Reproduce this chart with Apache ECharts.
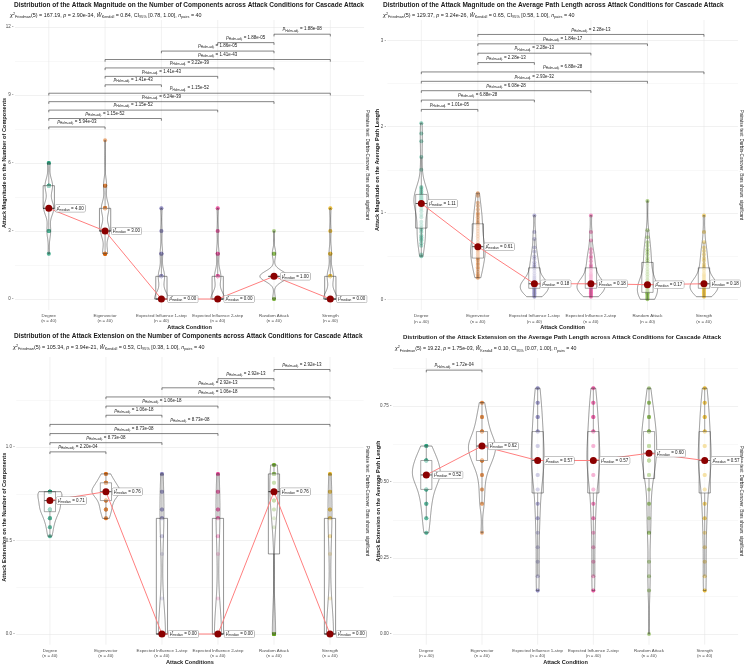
<!DOCTYPE html>
<html>
<head>
<meta charset="utf-8">
<title>Cascade attack distributions</title>
<script src="https://cdn.jsdelivr.net/npm/echarts@6.0.0/dist/echarts.min.js"></script>
<style>
  html, body { margin: 0; padding: 0; background: #fff; }
  #chart { width: 745px; height: 666px; }
</style>
</head>
<body>
<div id="chart"></div>
<script>
const conditions = ['Degree', 'Eigenvector', 'Expected Influence 1-step', 'Expected Influence 2-step', 'Random Attack', 'Strength'];
const groupColors = ['#1B9E77', '#D95F02', '#7570B3', '#E7298A', '#66A61E', '#E6AB02'];
const groupN = 40;

// attack magnitude, number of components: levels seen and how many of the 40 pairs sit on each
const magCompLevels = [[2, 3, 4, 5, 6], [2, 3, 4, 5, 7], [0, 1, 2, 3, 4], [0, 1, 2, 3, 4], [0, 1, 2, 3], [0, 1, 2, 3, 4]];
const magCompCounts = [[2, 6, 16, 12, 4], [8, 14, 12, 5, 1], [22, 10, 4, 2, 2], [22, 10, 4, 2, 2], [3, 32, 4, 1], [22, 10, 4, 2, 2]];

// attack magnitude, average path length: the 40 values of each condition
const magPathValues = [
  [0.50, 0.52, 0.62, 0.65, 0.68, 0.70, 0.72, 0.74, 0.78, 0.81, 0.83, 0.86, 0.90, 0.95, 0.98, 1.02, 1.05, 1.08, 1.10, 1.11,
   1.11, 1.12, 1.14, 1.15, 1.16, 1.17, 1.18, 1.19, 1.20, 1.21, 1.23, 1.25, 1.27, 1.29, 1.30, 1.50, 1.65, 1.83, 1.92, 2.04],
  [0.25, 0.27, 0.29, 0.32, 0.35, 0.37, 0.40, 0.42, 0.45, 0.47, 0.48, 0.50, 0.52, 0.54, 0.56, 0.57, 0.58, 0.59, 0.60, 0.61,
   0.61, 0.63, 0.66, 0.70, 0.73, 0.76, 0.79, 0.82, 0.85, 0.87, 0.89, 0.92, 0.95, 0.98, 1.00, 1.04, 1.08, 1.12, 1.20, 1.23],
  [0.03, 0.04, 0.05, 0.06, 0.07, 0.08, 0.09, 0.10, 0.11, 0.12, 0.13, 0.13, 0.14, 0.14, 0.15, 0.15, 0.16, 0.17, 0.17, 0.18,
   0.18, 0.19, 0.20, 0.21, 0.23, 0.25, 0.27, 0.30, 0.33, 0.36, 0.38, 0.40, 0.43, 0.47, 0.50, 0.55, 0.60, 0.70, 0.78, 0.97],
  [0.03, 0.04, 0.05, 0.06, 0.07, 0.08, 0.09, 0.10, 0.11, 0.12, 0.13, 0.14, 0.14, 0.15, 0.15, 0.16, 0.16, 0.17, 0.18, 0.18,
   0.18, 0.19, 0.20, 0.22, 0.24, 0.26, 0.28, 0.30, 0.33, 0.36, 0.38, 0.40, 0.44, 0.48, 0.50, 0.54, 0.58, 0.68, 0.78, 0.97],
  [0.00, 0.01, 0.02, 0.03, 0.04, 0.05, 0.06, 0.07, 0.07, 0.08, 0.08, 0.09, 0.10, 0.11, 0.12, 0.13, 0.14, 0.15, 0.16, 0.17,
   0.17, 0.19, 0.21, 0.23, 0.26, 0.29, 0.32, 0.35, 0.39, 0.42, 0.45, 0.48, 0.52, 0.55, 0.58, 0.62, 0.66, 0.72, 0.80, 1.14],
  [0.03, 0.04, 0.05, 0.06, 0.07, 0.08, 0.09, 0.10, 0.11, 0.12, 0.13, 0.13, 0.14, 0.15, 0.15, 0.16, 0.16, 0.17, 0.17, 0.18,
   0.18, 0.19, 0.20, 0.22, 0.24, 0.26, 0.28, 0.30, 0.33, 0.36, 0.38, 0.41, 0.45, 0.48, 0.52, 0.56, 0.60, 0.66, 0.78, 0.97]
];

// attack extension, number of components
const extCompLevels = [
  [0.5238, 0.5714, 0.6190, 0.6667, 0.7143, 0.7619],
  [0.6190, 0.6667, 0.7143, 0.7619, 0.8095, 0.8571],
  [0, 0.1905, 0.4286, 0.5238, 0.6190, 0.6667, 0.7619, 0.8571],
  [0, 0.1905, 0.4286, 0.5238, 0.6190, 0.6667, 0.7619, 0.8571],
  [0, 0.5714, 0.6190, 0.6667, 0.7143, 0.7619, 0.8095, 0.8571, 0.9048],
  [0, 0.1905, 0.4286, 0.5238, 0.6190, 0.6667, 0.7619, 0.8571]
];
const extCompCounts = [
  [2, 3, 5, 9, 9, 12],
  [3, 5, 6, 14, 8, 4],
  [22, 1, 1, 3, 4, 3, 3, 3],
  [22, 1, 1, 3, 4, 3, 3, 3],
  [10, 1, 1, 2, 4, 8, 3, 7, 4],
  [22, 1, 1, 3, 4, 3, 3, 3]
];

// attack extension, average path length
const extPathLevels = [
  [0.3333, 0.3810, 0.4286, 0.4762, 0.5238, 0.5714, 0.6190],
  [0.3333, 0.4286, 0.4762, 0.5238, 0.5714, 0.6190, 0.6667, 0.7143, 0.7619],
  [0.1429, 0.1905, 0.2381, 0.2857, 0.3333, 0.3810, 0.4286, 0.4762, 0.5238, 0.5714, 0.6190, 0.6667, 0.7143, 0.7619, 0.8095],
  [0.1429, 0.1905, 0.2381, 0.2857, 0.3333, 0.3810, 0.4286, 0.4762, 0.5238, 0.5714, 0.6190, 0.6667, 0.7143, 0.7619, 0.8095],
  [0, 0.1429, 0.1905, 0.2381, 0.3333, 0.3810, 0.4286, 0.4762, 0.5238, 0.5714, 0.6190, 0.6667, 0.7143, 0.7619, 0.8095],
  [0.1429, 0.1905, 0.2381, 0.2857, 0.3333, 0.3810, 0.4286, 0.4762, 0.5238, 0.5714, 0.6190, 0.6667, 0.7143, 0.7619, 0.8095]
];
const extPathCounts = [
  [2, 3, 4, 6, 12, 9, 4],
  [1, 2, 2, 3, 8, 12, 6, 4, 2],
  [2, 1, 1, 1, 1, 2, 2, 2, 3, 9, 3, 4, 4, 3, 2],
  [2, 1, 1, 1, 1, 2, 2, 2, 3, 9, 3, 4, 4, 3, 2],
  [1, 1, 1, 1, 2, 1, 2, 1, 4, 6, 6, 6, 4, 3, 1],
  [2, 1, 1, 1, 1, 2, 2, 2, 3, 9, 3, 4, 4, 3, 2]
];

// significant Durbin-Conover comparisons (Holm adjusted), bottom bracket first: [from, to, p]
const magCompPairs = [
  [0, 1, '5.94e-03'], [0, 2, '1.15e-52'], [0, 3, '1.15e-52'], [0, 4, '6.24e-39'], [0, 5, '1.15e-52'],
  [1, 2, '1.41e-43'], [1, 3, '1.41e-43'], [1, 4, '3.22e-39'], [1, 5, '1.41e-43'],
  [2, 4, '1.86e-05'], [3, 4, '1.88e-05'], [4, 5, '1.88e-08']
];
const magPathPairs = [
  [0, 1, '1.01e-05'], [0, 2, '6.88e-28'], [0, 3, '6.08e-28'], [0, 4, '2.93e-32'], [0, 5, '6.88e-28'],
  [1, 2, '2.28e-13'], [1, 3, '2.28e-13'], [1, 4, '1.84e-17'], [1, 5, '2.28e-13']
];
const extCompPairs = [
  [0, 1, '2.20e-04'], [0, 2, '8.73e-08'], [0, 3, '8.73e-08'], [0, 5, '8.73e-08'],
  [1, 2, '1.06e-18'], [1, 3, '1.06e-18'], [1, 5, '1.06e-18'],
  [2, 4, '2.92e-13'], [3, 4, '2.92e-13'], [4, 5, '2.92e-13']
];
const extPathPairs = [[0, 1, '1.72e-04']];

// Friedman test summaries
const friedmanChi = ['167.19', '129.37', '105.34', '19.22'];
const friedmanP = ['2.90e-34', '3.24e-26', '3.94e-21', '1.75e-03'];
const kendallW = ['0.84', '0.65', '0.53', '0.10'];
const kendallCI = ['[0.78, 1.00]', '[0.58, 1.00]', '[0.38, 1.00]', '[0.07, 1.00]'];

const panelTitles = [
  'Distribution of the Attack Magnitude on the Number of Components across Attack Conditions for Cascade Attack',
  'Distribution of the Attack Magnitude on the Average Path Length across Attack Conditions for Cascade Attack',
  'Distribution of the Attack Extension on the Number of Components across Attack Conditions for Cascade Attack',
  'Distribution of the Attack Extension on the Average Path Length across Attack Conditions for Cascade Attack'
];
const yTitles = [
  'Attack Magnitude on the Number of Components',
  'Attack Magnitude on the Average Path Length',
  'Attack Extension on the Number of Components',
  'Attack Extension on the Average Path Length'
];
const xTitles = ['Attack Condition', 'Attack Condition', 'Attack Conditions', 'Attack Condition'];
const captionText = 'Pairwise test: Durbin-Conover, Bars shown: significant';

// layout of the four panels (pixels, and bracket stacking in data units)
const layouts = [
  { grid: { left: 14.4, top: 27, width: 349.7, height: 272 }, yMax: 12, yStep: 1.5, digits: 0,
    extTop: 7, extBottom: 11, bracketBase: 7.59, bracketStep: 0.372,
    titleX: 14, titleY: 5.5, titleSize: 6.5, subX: 10, subY: 15.5, subSize: 5.4, capX: 367, capY: 165, yGap: 8 },
  { grid: { left: 387.4, top: 40.4, width: 350.5, height: 258.9 }, yMax: 3, yStep: 0.5, digits: 0,
    extTop: 20.4, extBottom: 10.7, bracketBase: 2.20, bracketStep: 0.1086,
    titleX: 383, titleY: 5, titleSize: 6.5, subX: 383, subY: 15.5, subSize: 5.4, capX: 741, capY: 165, yGap: 7.4 },
  { grid: { left: 15.6, top: 400.5, width: 348, height: 233.8 }, yMax: 1.25, yStep: 0.25, digits: 1,
    extTop: 43.5, extBottom: 10.7, bracketBase: 0.975, bracketStep: 0.049,
    titleX: 14, titleY: 336, titleSize: 6.5, subX: 13, subY: 347.5, subSize: 5.4, capX: 367, capY: 501, yGap: 9.3 },
  { grid: { left: 392.9, top: 368.3, width: 345.2, height: 266 }, yMax: 0.875, yStep: 0.125, digits: 2,
    extTop: 10.3, extBottom: 10.7, bracketBase: 0.869, bracketStep: 0.04,
    titleX: 403, titleY: 337.5, titleSize: 6.1, subX: 395, subY: 349, subSize: 5.2, capX: 741, capY: 501, yGap: 11.6 }
];

const fontFamily = "'Liberation Sans', Arial, Helvetica, sans-serif";
const ink = '#1A1A1A';

function expand(levels, counts) {
  const out = [];
  levels.forEach((v, i) => {
    for (let k = 0; k < counts[i]; k++) out.push(v);
  });
  return out;
}

// R type-7 quantile on a sorted array
function quantile(s, p) {
  const h = (s.length - 1) * p;
  const lo = Math.floor(h);
  const hi = Math.min(lo + 1, s.length - 1);
  return s[lo] + (h - lo) * (s[hi] - s[lo]);
}

function sd(s) {
  const m = s.reduce((a, b) => a + b, 0) / s.length;
  return Math.sqrt(s.reduce((a, b) => a + (b - m) * (b - m), 0) / (s.length - 1));
}

// same rule as R's bw.nrd0
function bandwidth(s) {
  const hi = sd(s);
  let lo = Math.min(hi, (quantile(s, 0.75) - quantile(s, 0.25)) / 1.34);
  if (!lo) lo = hi || Math.abs(s[0]) || 1;
  return 0.9 * lo * Math.pow(s.length, -0.2);
}

// gaussian kernel density over the data range (violins are trimmed)
function density(s) {
  const bw = bandwidth(s);
  const from = s[0], to = s[s.length - 1];
  const out = [];
  const steps = 512;
  for (let i = 0; i < steps; i++) {
    const y = from + (to - from) * i / (steps - 1);
    let sum = 0;
    for (const x of s) {
      const z = (y - x) / bw;
      sum += Math.exp(-0.5 * z * z);
    }
    out.push([y, sum / (s.length * bw * Math.sqrt(2 * Math.PI))]);
  }
  return out;
}

function groupStats(values) {
  const s = values.slice().sort((a, b) => a - b);
  const q1 = quantile(s, 0.25), med = quantile(s, 0.5), q3 = quantile(s, 0.75);
  const iqr = q3 - q1;
  const lowW = s.find(v => v >= q1 - 1.5 * iqr);
  const upW = s.slice().reverse().find(v => v <= q3 + 1.5 * iqr);
  return { s, q1, med, q3, lowW, upW, dens: density(s) };
}

const panelGroups = [
  magCompLevels.map((lv, i) => expand(lv, magCompCounts[i])),
  magPathValues,
  extCompLevels.map((lv, i) => expand(lv, extCompCounts[i])),
  extPathLevels.map((lv, i) => expand(lv, extPathCounts[i]))
];
const panelPairs = [magCompPairs, magPathPairs, extCompPairs, extPathPairs];

function subRich(size) {
  const small = size * 0.7;
  return {
    t: { fontSize: size, fontFamily, color: ink, lineHeight: size * 1.4 },
    i: { fontSize: size, fontFamily, fontStyle: 'italic', color: ink, lineHeight: size * 1.4 },
    sb: { fontSize: small, fontFamily, color: ink, lineHeight: small, verticalAlign: 'bottom' },
    sup: { fontSize: small, fontFamily, color: ink, lineHeight: small, verticalAlign: 'top' }
  };
}
const pRich = {
  t: { fontSize: 4.5, fontFamily, color: ink, lineHeight: 6 },
  i: { fontSize: 4.5, fontFamily, fontStyle: 'italic', color: ink, lineHeight: 6 },
  sb: { fontSize: 3.2, fontFamily, color: ink, lineHeight: 3.2, verticalAlign: 'bottom' }
};
const medRich = {
  t: { fontSize: 4.5, fontFamily, color: ink, lineHeight: 6 },
  m: { fontSize: 4.6, fontFamily, fontStyle: 'italic', color: ink, lineHeight: 6 },
  s: { fontSize: 3.2, fontFamily, color: ink, lineHeight: 3.2, verticalAlign: 'bottom' }
};

const grids = [], xAxes = [], yAxes = [], series = [], graphics = [];

panelGroups.forEach((groups, pi) => {
  const L = layouts[pi];
  const stats = groups.map(groupStats);
  const maxDens = Math.max(...stats.map(g => Math.max(...g.dens.map(d => d[1]))));
  const pairs = panelPairs[pi];
  const idxData = conditions.map((_, i) => [i]);

  grids.push(Object.assign({}, L.grid));

  xAxes.push({
    gridIndex: pi, type: 'value', min: -0.6, max: 5.6,
    axisLine: { show: false }, axisTick: { show: false }, splitLine: { show: false },
    axisLabel: {
      customValues: [0, 1, 2, 3, 4, 5],
      formatter: v => conditions[Math.round(v)] + '\n(n = ' + groupN + ')',
      fontSize: 4.4, lineHeight: 5.4, color: '#4D4D4D', fontFamily, margin: 14
    },
    name: xTitles[pi], nameLocation: 'middle', nameGap: 25, nameMoveOverlap: false,
    nameTextStyle: { fontSize: 5.6, fontWeight: 'bold', color: ink, fontFamily }
  });

  yAxes.push({
    gridIndex: pi, type: 'value', min: 0, max: L.yMax, interval: L.yStep,
    axisLine: { show: false }, axisTick: { show: false },
    axisLabel: {
      fontSize: 4.5, color: '#4D4D4D', fontFamily, margin: 1.5,
      formatter: (v, i) => (i % 2 === 0 ? v.toFixed(L.digits) + ' -' : '')
    },
    splitLine: { lineStyle: { color: ['#E3E3E3', '#F1F1F1'], width: 0.5 } },
    name: yTitles[pi], nameLocation: 'middle', nameRotate: 90, nameGap: L.yGap, nameMoveOverlap: false,
    nameTextStyle: { fontSize: 5.6, fontWeight: 'bold', color: ink, fontFamily }
  });

  // vertical grid lines across the whole panel
  series.push({
    type: 'custom', xAxisIndex: pi, yAxisIndex: pi, data: idxData, z: 1, silent: true, clip: false,
    renderItem(params, api) {
      const cs = params.coordSys;
      const x = api.coord([api.value(0), 0])[0];
      return {
        type: 'line',
        shape: { x1: x, y1: cs.y - L.extTop, x2: x, y2: cs.y + cs.height + L.extBottom },
        style: { stroke: '#E3E3E3', lineWidth: 0.5 }
      };
    }
  });

  // raw observations
  const pts = [];
  groups.forEach((vals, gi) => vals.forEach(v => pts.push([gi, v])));
  series.push({
    type: 'scatter', xAxisIndex: pi, yAxisIndex: pi, data: pts, z: 2, clip: false, silent: true,
    symbolSize: 4,
    itemStyle: { color: p => groupColors[p.value[0]], opacity: 0.5 }
  });

  // box plot then violin on top, as ggstatsplot layers them
  series.push({
    type: 'custom', xAxisIndex: pi, yAxisIndex: pi, data: idxData, z: 3, silent: true, clip: false,
    renderItem(params, api) {
      const gi = api.value(0);
      const g = stats[gi];
      const cx = api.coord([gi, 0])[0];
      const band = api.size([1, 0])[0];
      const yOf = v => api.coord([gi, v])[1];
      const bh = 0.1 * band;
      const left = [], right = [];
      g.dens.forEach(([y, d]) => {
        const w = 0.25 * band * d / maxDens;
        const py = yOf(y);
        left.push([cx - w, py]);
        right.push([cx + w, py]);
      });
      const outline = left.concat(right.reverse());
      const stroke = { stroke: '#2B2B2B', lineWidth: 0.5 };
      return {
        type: 'group',
        children: [
          { type: 'line', shape: { x1: cx, y1: yOf(g.upW), x2: cx, y2: yOf(g.q3) }, style: stroke },
          { type: 'line', shape: { x1: cx, y1: yOf(g.lowW), x2: cx, y2: yOf(g.q1) }, style: stroke },
          { type: 'rect', shape: { x: cx - bh, y: yOf(g.q3), width: 2 * bh, height: Math.max(yOf(g.q1) - yOf(g.q3), 0.3) },
            style: { fill: 'rgba(255,255,255,0.5)', stroke: '#2B2B2B', lineWidth: 0.5 } },
          { type: 'line', shape: { x1: cx - bh, y1: yOf(g.med), x2: cx + bh, y2: yOf(g.med) },
            style: { stroke: '#2B2B2B', lineWidth: 1 } },
          { type: 'polygon', shape: { points: outline },
            style: { fill: 'rgba(255,255,255,0.2)', stroke: '#2B2B2B', lineWidth: 0.5 } }
        ]
      };
    }
  });

  // path through the medians
  const medians = stats.map((g, gi) => [gi, g.med]);
  series.push({
    type: 'line', xAxisIndex: pi, yAxisIndex: pi, data: medians, z: 4, clip: false, silent: true,
    symbol: 'none', lineStyle: { color: '#FF7F7F', width: 1 }
  });

  series.push({
    type: 'scatter', xAxisIndex: pi, yAxisIndex: pi, data: medians, z: 5, clip: false, silent: true,
    symbolSize: 7, itemStyle: { color: '#8B0000', opacity: 1 },
    label: {
      show: true, position: 'right', distance: 3,
      formatter: p => '{m|\u03BC\u0302}{s|median}{t| = ' + p.value[1].toFixed(2) + '}',
      rich: medRich,
      backgroundColor: '#fff', borderColor: '#8C8C8C', borderWidth: 0.5, borderRadius: 1,
      padding: [0.5, 1.5, 0.5, 1.5]
    }
  });

  // pairwise comparison brackets
  series.push({
    type: 'custom', xAxisIndex: pi, yAxisIndex: pi, data: pairs.map((_, k) => [k]), z: 6, silent: true, clip: false,
    renderItem(params, api) {
      const k = api.value(0);
      const [a, b, label] = pairs[k];
      const yv = L.bracketBase + k * L.bracketStep;
      const p1 = api.coord([a, yv]), p2 = api.coord([b, yv]);
      return {
        type: 'group',
        children: [
          { type: 'polyline',
            shape: { points: [[p1[0], p1[1] + 2.2], p1, p2, [p2[0], p2[1] + 2.2]] },
            style: { stroke: '#333', lineWidth: 0.6, fill: null } },
          { type: 'text', x: (p1[0] + p2[0]) / 2, y: p1[1] - 5,
            style: {
              text: '{i|p}{sb|Holm-adj.}{t| = ' + label + '}', rich: pRich,
              align: 'center', verticalAlign: 'middle', textAlign: 'center', textVerticalAlign: 'middle',
              fontSize: 4.5, fontFamily, fill: ink
            } }
        ]
      };
    }
  });

  graphics.push({
    type: 'text', x: L.titleX, y: L.titleY, silent: true,
    style: { text: panelTitles[pi], fontSize: L.titleSize, fontWeight: 'bold', fontFamily, fill: ink,
             align: 'left', verticalAlign: 'middle', textAlign: 'left', textVerticalAlign: 'middle' }
  });
  graphics.push({
    type: 'text', x: L.subX, y: L.subY, silent: true,
    style: {
      text: '{i|\u03C7}{sup|2}{sb|Friedman}{t|(5) = ' + friedmanChi[pi] + ', }{i|p}{t| = ' + friedmanP[pi] +
            ', }{i|\u0174}{sb|Kendall}{t| = ' + kendallW[pi] + ', CI}{sb|95%}{t| ' + kendallCI[pi] +
            ', }{i|n}{sb|pairs}{t| = ' + groupN + '}',
      rich: subRich(L.subSize), fontSize: L.subSize, fontFamily, fill: ink,
      align: 'left', verticalAlign: 'middle', textAlign: 'left', textVerticalAlign: 'middle'
    }
  });
  graphics.push({
    type: 'text', x: L.capX, y: L.capY, rotation: -Math.PI / 2, silent: true,
    style: { text: captionText, fontSize: 4.6, fontFamily, fill: ink,
             align: 'center', verticalAlign: 'middle', textAlign: 'center', textVerticalAlign: 'middle' }
  });
});

const chart = echarts.init(document.getElementById('chart'));
chart.setOption({
  animation: false,
  backgroundColor: '#fff',
  grid: grids,
  xAxis: xAxes,
  yAxis: yAxes,
  series: series,
  graphic: graphics
});
</script>
</body>
</html>
